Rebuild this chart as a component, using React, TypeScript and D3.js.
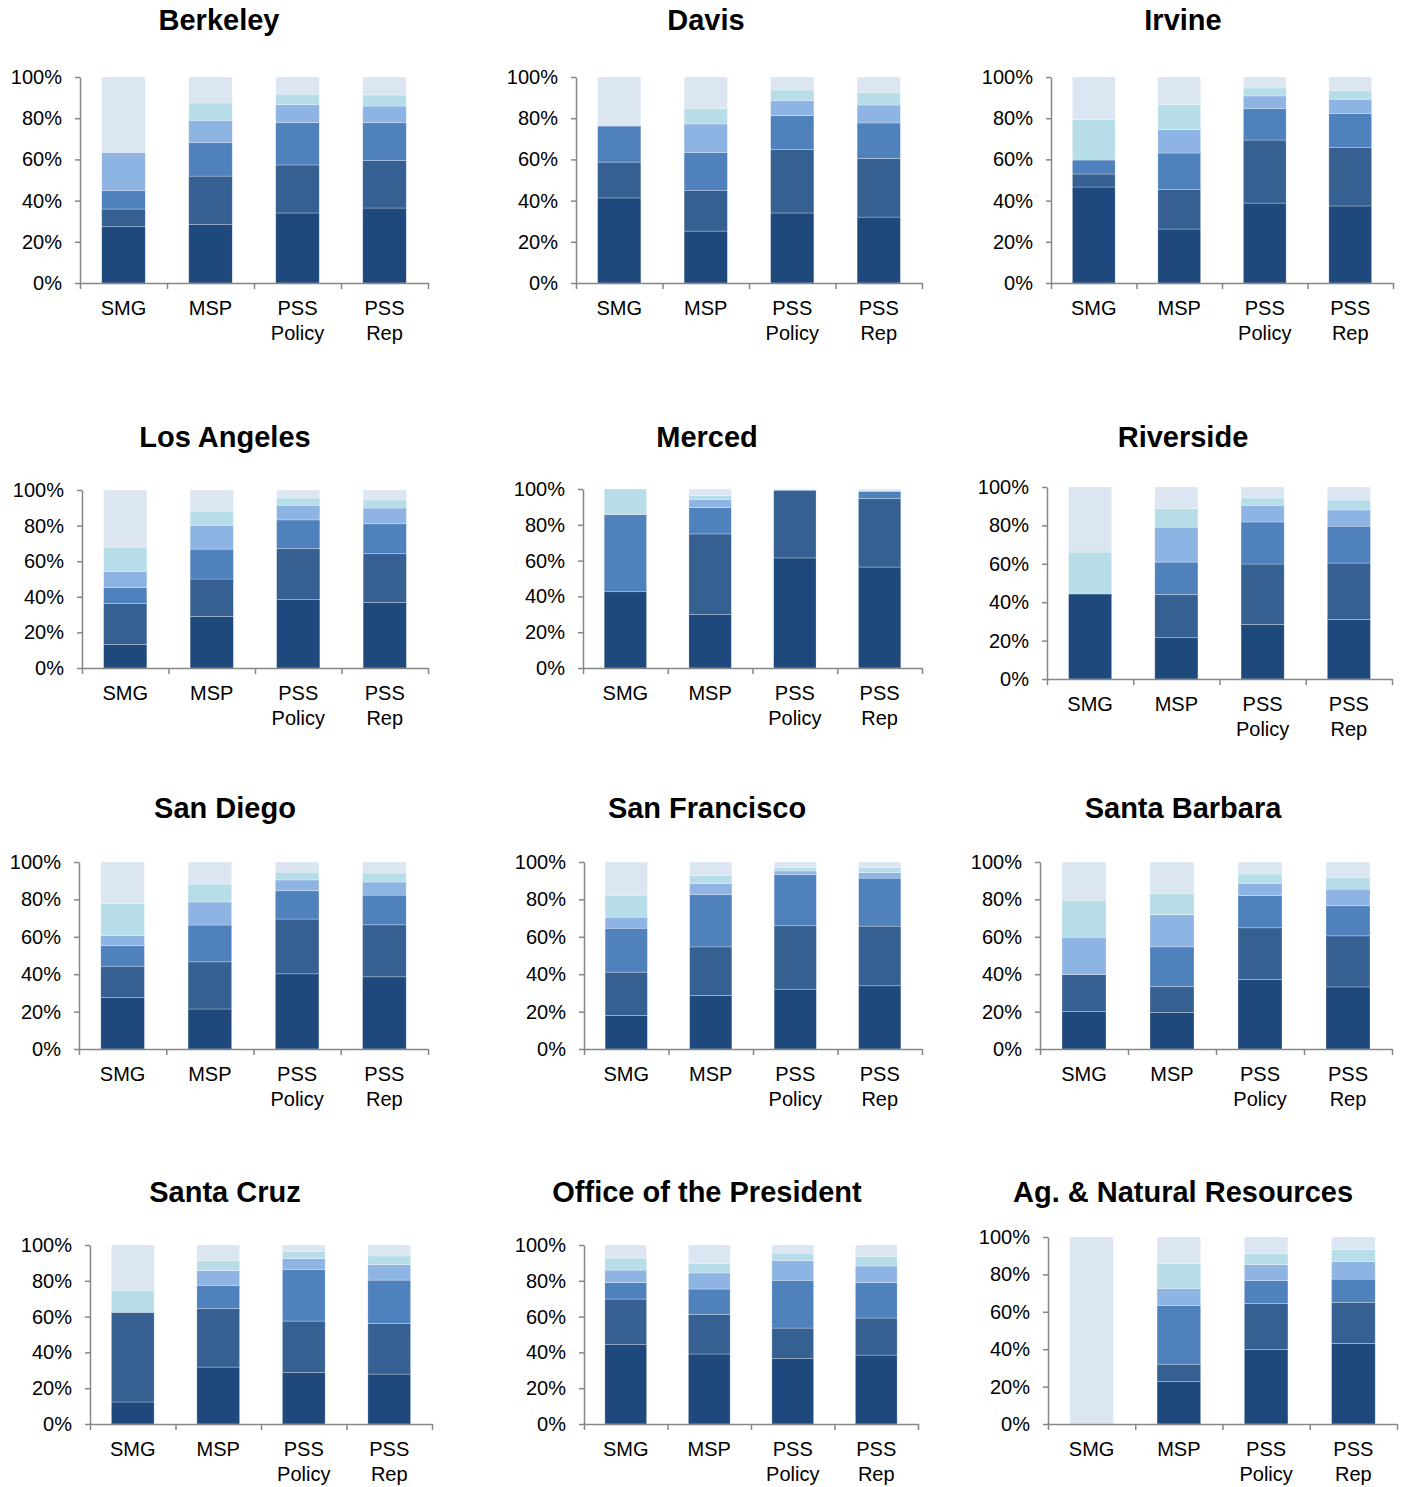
import { useEffect, useRef } from "react";
import * as d3 from "d3";

const categories = ["SMG", "MSP", "PSS Policy", "PSS Rep"];
const seriesKeys = ["s1", "s2", "s3", "s4", "s5", "s6"];
const colors = ["#1F497D", "#366092", "#4F81BD", "#8EB4E3", "#B7DEE8", "#DCE6F2"];
const yTicks = [0, 0.2, 0.4, 0.6, 0.8, 1];

// one row per bar (SMG, MSP, PSS Policy, PSS Rep), segments bottom -> top, in %
const berkeley = [
  [27.3, 8.6, 9.1, 18.4, 0, 36.6],
  [28.3, 23.6, 16.4, 10.7, 8.4, 12.6],
  [34.0, 23.3, 20.5, 8.8, 5.1, 8.3],
  [36.4, 23.0, 18.4, 8.1, 5.4, 8.7],
];
const davis = [
  [41.3, 17.4, 17.5, 0, 0, 23.8],
  [25.2, 19.6, 18.6, 13.8, 7.6, 15.2],
  [34.0, 30.7, 16.5, 7.5, 5.0, 6.3],
  [32.0, 28.5, 17.2, 8.7, 6.2, 7.4],
];
const irvine = [
  [46.6, 6.3, 6.8, 0, 19.6, 20.7],
  [26.2, 19.1, 17.8, 11.3, 12.3, 13.3],
  [38.8, 30.6, 15.2, 6.2, 3.9, 5.3],
  [37.4, 28.5, 16.3, 7.0, 4.3, 6.5],
];
const losAngeles = [
  [13.2, 23.0, 8.9, 9.2, 13.6, 32.1],
  [28.9, 21.1, 16.8, 13.4, 7.9, 11.9],
  [38.4, 28.6, 16.2, 8.2, 4.1, 4.5],
  [36.8, 27.4, 16.8, 8.9, 4.5, 5.6],
];
const merced = [
  [42.6, 0, 43.1, 0, 14.3, 0],
  [29.8, 45.1, 14.7, 4.6, 2.3, 3.5],
  [61.5, 37.6, 0.5, 0.2, 0.1, 0.1],
  [56.4, 38.2, 4.1, 0.4, 0.3, 0.6],
];
const riverside = [
  [44.3, 0, 0, 0, 21.8, 33.9],
  [21.5, 22.6, 16.8, 18.2, 9.7, 11.2],
  [28.4, 31.5, 21.9, 8.7, 3.8, 5.7],
  [31.0, 29.4, 19.2, 8.5, 5.2, 6.7],
];
const sanDiego = [
  [27.5, 16.8, 10.9, 5.5, 17.0, 22.3],
  [21.4, 25.2, 19.7, 12.3, 9.6, 11.8],
  [40.2, 29.3, 15.1, 5.8, 4.2, 5.4],
  [38.6, 27.8, 15.9, 7.0, 4.8, 5.9],
];
const sanFrancisco = [
  [17.9, 23.2, 23.5, 5.9, 11.8, 17.7],
  [28.6, 26.0, 27.9, 5.9, 4.3, 7.3],
  [32.0, 33.9, 27.3, 2.0, 1.8, 3.0],
  [33.8, 31.9, 25.7, 2.9, 2.7, 3.0],
];
const santaBarbara = [
  [20.0, 19.8, 0, 20.0, 19.8, 20.4],
  [19.5, 13.9, 21.2, 17.2, 11.2, 17.0],
  [37.1, 27.7, 17.2, 6.6, 5.0, 6.4],
  [33.2, 27.3, 16.1, 8.9, 6.1, 8.4],
];
const santaCruz = [
  [12.3, 50.1, 0, 0, 12.3, 25.3],
  [31.8, 32.6, 13.1, 8.3, 5.6, 8.6],
  [28.9, 28.6, 28.9, 6.1, 4.0, 3.5],
  [27.9, 28.3, 24.2, 8.6, 4.9, 6.1],
];
const officeOfPresident = [
  [44.3, 25.5, 9.2, 7.0, 6.7, 7.3],
  [39.1, 22.2, 14.1, 9.0, 5.4, 10.2],
  [36.5, 17.1, 26.7, 11.1, 4.1, 4.5],
  [38.5, 20.7, 19.8, 9.3, 5.4, 6.3],
];
const agNaturalResources = [
  [0, 0, 0, 0, 0, 100],
  [22.7, 9.3, 31.3, 9.2, 13.4, 14.1],
  [39.9, 24.5, 12.3, 8.6, 5.8, 8.9],
  [43.1, 22.0, 12.4, 9.4, 6.5, 6.6],
];

const titles = [
  "Berkeley", "Davis", "Irvine",
  "Los Angeles", "Merced", "Riverside",
  "San Diego", "San Francisco", "Santa Barbara",
  "Santa Cruz", "Office of the President", "Ag. & Natural Resources",
];
const panelData = [
  berkeley, davis, irvine,
  losAngeles, merced, riverside,
  sanDiego, sanFrancisco, santaBarbara,
  santaCruz, officeOfPresident, agNaturalResources,
];

// plot frame for each small multiple (axis x range, 100% / 0% y, title anchor)
const frames = [
  { x0: 80, x1: 428, top: 77, bottom: 283, tx: 219, ty: 30 },
  { x0: 576, x1: 922, top: 77, bottom: 283, tx: 706, ty: 30 },
  { x0: 1051, x1: 1393, top: 77, bottom: 283, tx: 1183, ty: 30 },
  { x0: 82, x1: 428, top: 490, bottom: 668, tx: 225, ty: 447 },
  { x0: 583, x1: 922, top: 489, bottom: 668, tx: 707, ty: 447 },
  { x0: 1047, x1: 1392, top: 487, bottom: 679, tx: 1183, ty: 447 },
  { x0: 79, x1: 428, top: 862, bottom: 1049, tx: 225, ty: 818 },
  { x0: 584, x1: 922, top: 862, bottom: 1049, tx: 707, ty: 818 },
  { x0: 1040, x1: 1392, top: 862, bottom: 1049, tx: 1183, ty: 818 },
  { x0: 90, x1: 432, top: 1245, bottom: 1424, tx: 225, ty: 1202 },
  { x0: 584, x1: 918, top: 1245, bottom: 1424, tx: 707, ty: 1202 },
  { x0: 1048, x1: 1397, top: 1237, bottom: 1424, tx: 1183, ty: 1202 },
];

const font = "'Liberation Sans', Arial, sans-serif";
const axisColor = "#868686";

export default function App() {
  const width = 1405;
  const height = 1487;
  const ref = useRef(null);

  useEffect(() => {
    ref.current.innerHTML = "";
    const svg = d3.select(ref.current);

    frames.forEach((f, pi) => {
      const rows = panelData[pi].map((vals, i) => {
        const row = { category: categories[i] };
        seriesKeys.forEach((k, j) => (row[k] = vals[j]));
        return row;
      });

      const stacked = d3.stack().keys(seriesKeys).offset(d3.stackOffsetExpand)(rows);

      const x = d3
        .scaleBand()
        .domain(categories)
        .range([f.x0, f.x1])
        .paddingInner(0.5)
        .paddingOuter(0.25);

      const y = d3.scaleLinear().domain([0, 1]).range([f.bottom, f.top]);

      const g = svg.append("g").style("font-family", font);

      // Title
      g.append("text")
        .attr("x", f.tx)
        .attr("y", f.ty)
        .attr("text-anchor", "middle")
        .style("font-size", "29px")
        .style("font-weight", "bold")
        .attr("fill", "#000")
        .text(titles[pi]);

      // Stacked bars
      g.selectAll("g.series")
        .data(stacked)
        .enter()
        .append("g")
        .attr("fill", (d, i) => colors[i])
        .selectAll("rect")
        .data((d) => d)
        .enter()
        .append("rect")
        .attr("x", (d) => x(d.data.category))
        .attr("y", (d) => y(d[1]))
        .attr("width", x.bandwidth())
        .attr("height", (d) => Math.max(0, y(d[0]) - y(d[1])))
        .attr("stroke", "#ffffff")
        .attr("stroke-opacity", 0.45)
        .attr("stroke-width", 0.6);

      // Y axis
      g.append("g")
        .attr("transform", `translate(${f.x0},0)`)
        .call(
          d3
            .axisLeft(y)
            .tickValues(yTicks)
            .tickFormat(d3.format(".0%"))
            .tickSize(5)
            .tickSizeOuter(0)
            .tickPadding(13),
        )
        .call((a) => a.select(".domain").attr("stroke", axisColor).attr("stroke-width", 1.5))
        .call((a) => a.selectAll(".tick line").attr("stroke", axisColor).attr("stroke-width", 1.5))
        .call((a) =>
          a
            .selectAll(".tick text")
            .attr("fill", "#000")
            .style("font-size", "20px")
            .style("font-family", font),
        );

      // X axis: boundary ticks between categories
      const xb = d3.scaleLinear().domain([0, categories.length]).range([f.x0, f.x1]);
      g.append("g")
        .attr("transform", `translate(0,${f.bottom})`)
        .call(
          d3
            .axisBottom(xb)
            .tickValues(d3.range(categories.length + 1))
            .tickFormat(() => "")
            .tickSize(6)
            .tickSizeOuter(0),
        )
        .call((a) => a.select(".domain").attr("stroke", axisColor).attr("stroke-width", 1.5))
        .call((a) => a.selectAll(".tick line").attr("stroke", axisColor).attr("stroke-width", 1.5));

      // Category labels
      const labels = g
        .selectAll("text.cat")
        .data(categories)
        .enter()
        .append("text")
        .attr("class", "cat")
        .attr("text-anchor", "middle")
        .attr("fill", "#000")
        .style("font-size", "20px");

      labels.each(function (c) {
        const words = c.split(" ");
        const cx = x(c) + x.bandwidth() / 2;
        words.forEach((w, i) => {
          d3.select(this)
            .append("tspan")
            .attr("x", cx)
            .attr("y", f.bottom + 32 + i * 25)
            .text(w);
        });
      });
    });
  }, []);

  return (
    <svg
      ref={ref}
      width={width}
      height={height}
      style={{ position: "absolute", left: 0, top: 0, background: "#fff" }}
    />
  );
}
